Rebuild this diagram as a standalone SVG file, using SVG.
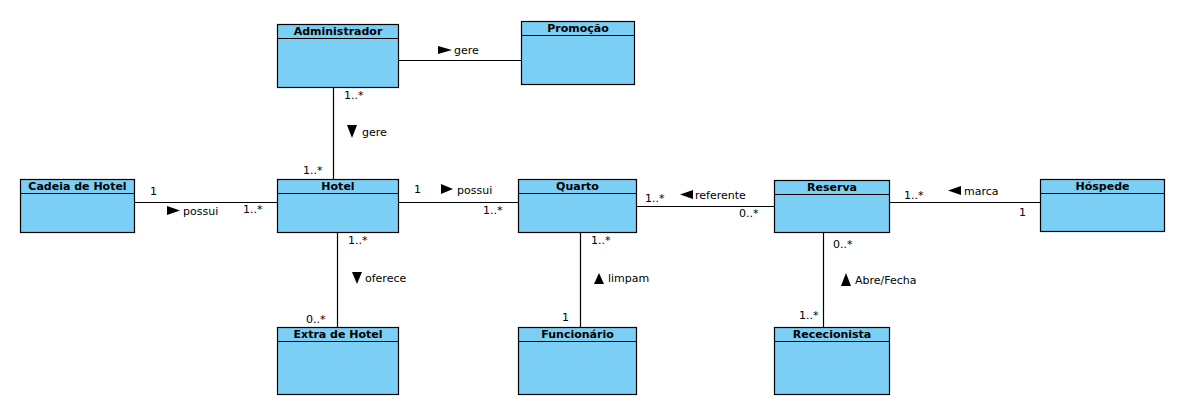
<svg xmlns="http://www.w3.org/2000/svg" width="1189" height="415" viewBox="0 0 1189 415">
<style>
.box{fill:#7bcff4;stroke:#000;stroke-width:1.2}
.hdr{stroke:#000;stroke-width:1.2}
.title{font-family:"DejaVu Sans",sans-serif;font-weight:bold;font-size:11px;text-anchor:middle;fill:#000}
.lbl{font-family:"DejaVu Sans",sans-serif;font-size:11px;fill:#000}
.edge{stroke:#000;stroke-width:1.2;fill:none}
.tri{fill:#000}
</style>
<rect width="1189" height="415" fill="#fff"/>
<g id="administrador"><rect class="box" x="277.5" y="24.5" width="121" height="63"/><line class="hdr" x1="277.5" y1="38.5" x2="398.5" y2="38.5"/><text class="title" x="338" y="35">Administrador</text></g>
<g id="promocao"><rect class="box" x="521.5" y="21.5" width="113" height="63"/><line class="hdr" x1="521.5" y1="35.5" x2="634.5" y2="35.5"/><text class="title" x="578" y="32">Promoção</text></g>
<g id="cadeia"><rect class="box" x="20.5" y="179.5" width="114" height="53"/><line class="hdr" x1="20.5" y1="193.5" x2="134.5" y2="193.5"/><text class="title" x="77.5" y="190">Cadeia de Hotel</text></g>
<g id="hotel"><rect class="box" x="277.5" y="179.5" width="121" height="53"/><line class="hdr" x1="277.5" y1="193.5" x2="398.5" y2="193.5"/><text class="title" x="338" y="190">Hotel</text></g>
<g id="quarto"><rect class="box" x="518.5" y="179.5" width="118" height="53"/><line class="hdr" x1="518.5" y1="193.5" x2="636.5" y2="193.5"/><text class="title" x="577.5" y="190">Quarto</text></g>
<g id="reserva"><rect class="box" x="774.5" y="180.5" width="115" height="52"/><line class="hdr" x1="774.5" y1="194.5" x2="889.5" y2="194.5"/><text class="title" x="832" y="191">Reserva</text></g>
<g id="hospede"><rect class="box" x="1040.5" y="179.5" width="124" height="52"/><line class="hdr" x1="1040.5" y1="193.5" x2="1164.5" y2="193.5"/><text class="title" x="1102.5" y="190">Hóspede</text></g>
<g id="extra"><rect class="box" x="277.5" y="327.5" width="121" height="67"/><line class="hdr" x1="277.5" y1="341.5" x2="398.5" y2="341.5"/><text class="title" x="338" y="338">Extra de Hotel</text></g>
<g id="funcionario"><rect class="box" x="518.5" y="327.5" width="118" height="67"/><line class="hdr" x1="518.5" y1="341.5" x2="636.5" y2="341.5"/><text class="title" x="577.5" y="338">Funcionário</text></g>
<g id="rececionista"><rect class="box" x="774.5" y="327.5" width="115" height="67"/><line class="hdr" x1="774.5" y1="341.5" x2="889.5" y2="341.5"/><text class="title" x="832" y="338">Rececionista</text></g>
<g id="connectors">
<path class="edge" d="M398.5,60.5 H521.5"/>
<polygon class="tri" points="438,46 452,50 438,54"/>
<text class="lbl" x="454" y="54">gere</text>
<path class="edge" d="M333.5,87.5 V179.5"/>
<text class="lbl" x="344" y="99">1..*</text>
<polygon class="tri" points="347,125 357,125 352,138"/>
<text class="lbl" x="362" y="136">gere</text>
<text class="lbl" x="303" y="174">1..*</text>
<path class="edge" d="M134.5,202.5 H277.5"/>
<text class="lbl" x="150" y="195">1</text>
<polygon class="tri" points="167,206 180,210.5 167,215"/>
<text class="lbl" x="183" y="215">possui</text>
<text class="lbl" x="243" y="213">1..*</text>
<path class="edge" d="M398.5,202.5 H518.5"/>
<text class="lbl" x="414" y="193">1</text>
<polygon class="tri" points="441,184 453,189 441,194"/>
<text class="lbl" x="457" y="194">possui</text>
<text class="lbl" x="483" y="214">1..*</text>
<path class="edge" d="M636.5,206.5 H774.5"/>
<text class="lbl" x="645" y="202">1..*</text>
<polygon class="tri" points="693,190 680,194.5 693,199"/>
<text class="lbl" x="695" y="199">referente</text>
<text class="lbl" x="739" y="217">0..*</text>
<path class="edge" d="M889.5,202.5 H1040.5"/>
<text class="lbl" x="904" y="199">1..*</text>
<polygon class="tri" points="961,186 948,190.5 961,195"/>
<text class="lbl" x="964" y="195">marca</text>
<text class="lbl" x="1019" y="216">1</text>
<path class="edge" d="M337.5,232.5 V327.5"/>
<text class="lbl" x="348" y="244">1..*</text>
<polygon class="tri" points="352,272 362,272 357,284"/>
<text class="lbl" x="365" y="282">oferece</text>
<text class="lbl" x="306" y="323">0..*</text>
<path class="edge" d="M580.5,232.5 V327.5"/>
<text class="lbl" x="591" y="244">1..*</text>
<polygon class="tri" points="594,284 604,284 599,273"/>
<text class="lbl" x="608" y="282">limpam</text>
<text class="lbl" x="562" y="321">1</text>
<path class="edge" d="M823.5,232.5 V327.5"/>
<text class="lbl" x="833" y="248">0..*</text>
<polygon class="tri" points="841,286 851,286 846,273"/>
<text class="lbl" x="855" y="284">Abre/Fecha</text>
<text class="lbl" x="799" y="319">1..*</text>
</g>
</svg>
